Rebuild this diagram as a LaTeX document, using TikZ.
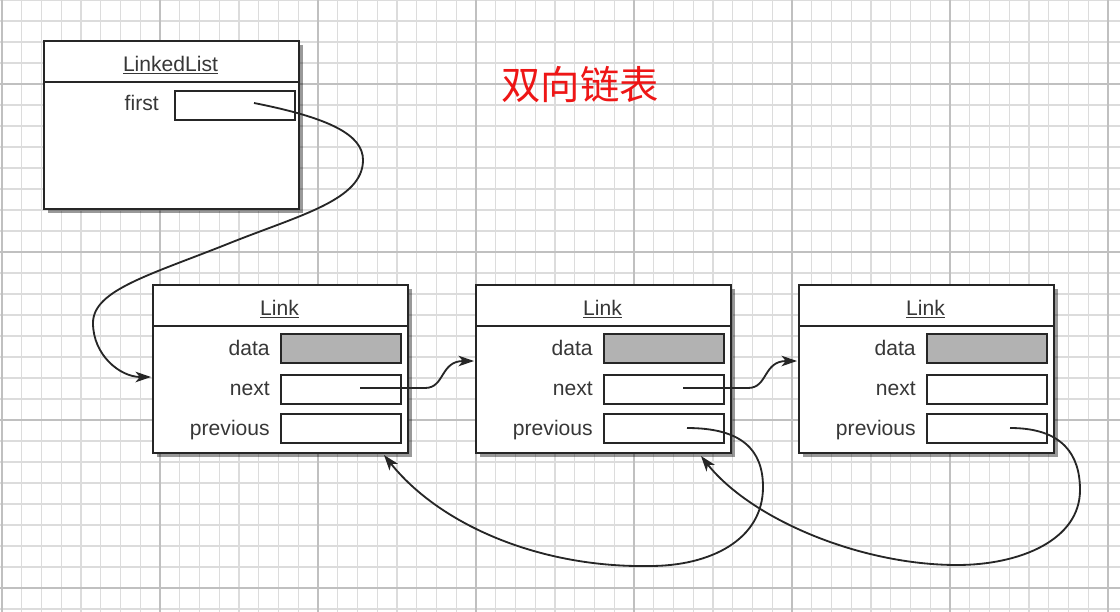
\documentclass[tikz,border=0pt]{standalone}
\usepackage{fontspec}
\setmainfont{Liberation Sans}
\newfontfamily\cjk{Noto Sans CJK SC}
\usetikzlibrary{arrows.meta,shadows}
\definecolor{ink}{RGB}{38,38,38}
\definecolor{txt}{RGB}{55,55,55}
\definecolor{datagray}{RGB}{178,178,178}
\definecolor{gridlo}{RGB}{220,220,220}
\definecolor{gridhi}{RGB}{192,192,192}
\definecolor{titlered}{RGB}{238,22,22}
\newcommand{\lab}{\fontsize{15}{18}\selectfont}
\tikzset{
	objbox/.style={draw=ink, line width=1.5pt, fill=white, inner sep=0pt,
		minimum width=255*0.025cm, minimum height=168*0.025cm, anchor=north west,
		drop shadow={shadow xshift=3pt, shadow yshift=-3pt, fill=black, opacity=0.4}},
	sep/.style={draw=ink, line width=1.5pt},
	field/.style={draw=ink, line width=1.3pt, fill=white, inner sep=0pt,
		minimum width=120*0.025cm, minimum height=29*0.025cm, anchor=north west},
	lbl/.style={anchor=base east, inner sep=0pt, font=\lab, text=txt},
	head/.style={anchor=base, inner sep=0pt, font=\lab, text=txt},
	ptr/.style={draw=ink, line width=1.3pt, -{Stealth[length=11pt,width=7.5pt,inset=3pt]}},
	minor/.style={draw=gridlo, line width=0.8pt},
	major/.style={draw=gridhi, line width=1.3pt}
}
\newcommand{\linkobj}[2]{\node[objbox] (#1) at (#2,284) {};
	\draw[sep] (#2,326) -- ++(255,0);
	\node[head] (#1t) at (#2+127.5,315) {\underline{Link}};
	\node[field, fill=datagray] (#1d) at (#2+128,333) {};
	\node[field] (#1n) at (#2+128,374) {};
	\node[field] (#1p) at (#2+128,413) {};
	\node[lbl] (#1dl) at (#2+118,355) {data};
	\node[lbl] (#1nl) at (#2+118,395) {next};
	\node[lbl] (#1pl) at (#2+118,435) {previous};
	\coordinate (#1ns) at (#2+208,388);
	\coordinate (#1ps) at (#2+212,428)}

\begin{document}
\begin{tikzpicture}[x=0.025cm, y=-0.025cm]
\useasboundingbox (0,0) rectangle (1120,612);
%Grid paper
	\fill[white] (0,0) rectangle (1120,612);
	\foreach \i in {0,...,56} \draw[minor] (2+19.75*\i,0) -- ++(0,612);
	\foreach \j in {0,...,29} \draw[minor] (0,21*\j) -- ++(1120,0);
	\foreach \i in {0,...,7} \draw[major] (2+158*\i,0) -- ++(0,612);
	\foreach \j in {0,...,3} \draw[major] (0,84+168*\j) -- ++(1120,0);
%The list object
	\node[objbox] (list) at (43,40) {};
	\draw[sep] (43,82) -- ++(255,0);
	\node[head] (listt) at (170.5,71) {\underline{LinkedList}};
	\node[field] (first) at (174,90) {};
	\node[lbl] (firstl) at (159,110) {first};
	\coordinate (firsts) at (254,103);
%The links
	\linkobj{la}{152};
	\linkobj{lb}{475};
	\linkobj{lc}{798};
	\coordinate (laent) at (151,377);
	\coordinate (lbent) at (474,361);
	\coordinate (lcent) at (797,361);
	\coordinate (lahit) at (384,455);
	\coordinate (lbhit) at (701,456);
	\node[font=\cjk\fontsize{28}{32}\selectfont, text=titlered] (name) at (580,85) {双向链表};
%Pointers
	\draw[ptr] (firsts) .. controls (330,118) and (363,135) .. (363,160)
		.. controls (363,200) and (300,215) .. (230,243)
		.. controls (150,275) and (93,290) .. (93,323)
		.. controls (93,355) and (120,377) .. (laent);
	\draw[ptr] (lans) -- ++(65,0) .. controls +(20,0) and +(-34,0) .. (lbent);
	\draw[ptr] (lbns) -- ++(65,0) .. controls +(20,0) and +(-34,0) .. (lcent);
	\draw[ptr] (lbps) .. controls +(55,0) and +(0,-37) .. (763,487)
		.. controls +(0,53) and +(60,0) .. (650,566)
		.. controls +(-110,2) and +(56,70) .. (lahit);
	\draw[ptr] (lcps) .. controls +(53,0) and +(0,-35) .. (1080,490)
		.. controls +(0,50) and +(63,0) .. (957,565)
		.. controls +(-97,0) and +(50,63) .. (lbhit);
\end{tikzpicture}
\end{document}
